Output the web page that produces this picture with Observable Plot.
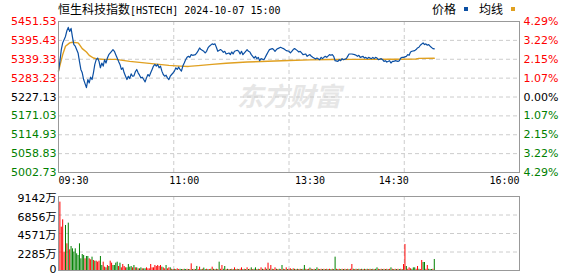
<!DOCTYPE html>
<html><head><meta charset="utf-8">
<script src="https://cdn.jsdelivr.net/npm/d3@7"></script>
<script src="https://cdn.jsdelivr.net/npm/@observablehq/plot@0.6"></script>
<style>
body{margin:0;background:#fff;}
#wrap{position:relative;width:578px;height:276px;overflow:hidden;background:#fff;}
#wrap svg{position:absolute;left:0;overflow:visible;}
.title{position:absolute;left:58px;top:1px;height:15px;line-height:15px;color:#000;white-space:nowrap;}
.cjk{font-family:"Noto Sans CJK SC";font-size:12px;}
.mono{font-family:"DejaVu Sans Mono";font-size:10px;}
.legend{position:absolute;left:432px;top:1px;height:15px;line-height:15px;white-space:nowrap;font-family:"Noto Sans CJK SC";font-size:12px;color:#000;}
.sq{display:inline-block;width:4px;height:4px;margin:0 0 3px 8px;vertical-align:middle;}
</style></head>
<body>
<div id="wrap">
  <div class="title"><span class="cjk">恒生科技指数</span><span class="mono">[HSTECH] 2024-10-07 15:00</span></div>
  <div class="legend">价格<span class="sq" style="background:#0b4fa3"></span><span style="margin-left:11px">均线</span><span class="sq" style="background:#e0a020"></span></div>
</div>
<script>
// ---- data ----
const priceMinute = [0,1,2,3,5,6,7,8,9,10,11,12,14,15,16,17,18,19,20,21,22,23,24,25,26,27,28,29,30,31,32,33,34,35,36,38,39,40,41,42,43,44,45,46,47,48,49,50,51,52,53,54,55,56,57,58,59,60,61,62,63,64,65,66,67,68,69,70,71,72,73,74,75,76,77,78,79,80,81,82,83,84,85,86,87,88,89,90,91,92,93,94,95,96,98,99,100,101,102,104,105,106,107,108,110,111,112,113,114,116,117,118,119,120,122,123,124,125,126,128,129,130,131,132,134,135,136,137,138,140,141,142,143,144,145,147,148,149,150,151,153,154,155,156,157,159,160,161,162,163,165,166,167,168,169,171,172,173,174,175,177,178,179,180,181,182,184,185,187,188,189,190,191,192,194,195,196,197,198,200,201,202,203,204,206,207,208,209,210,212,213,214,215,216,218,219,220,221,222,224,225,226,227,228,229,231,232,233,234,235,237,238,239,240,241,243,244,245,246,247,249,250,251,252,253,255,256,257,258,259,261,262,263,264,265,266,268,269];
const priceValue = [5304,5333,5368,5388,5407,5424,5434,5422,5431,5405,5383,5378,5358,5333,5309,5299,5279,5267,5255,5279,5269,5286,5279,5299,5324,5338,5343,5333,5314,5328,5319,5338,5328,5343,5353,5363,5368,5363,5353,5343,5333,5324,5309,5314,5299,5289,5279,5289,5282,5296,5289,5290,5302,5309,5299,5292,5284,5286,5279,5272,5284,5294,5289,5299,5309,5319,5324,5319,5324,5314,5319,5304,5294,5289,5292,5284,5279,5289,5294,5299,5304,5314,5309,5316,5309,5304,5319,5328,5338,5345,5348,5345,5353,5351,5353,5358,5365,5373,5368,5363,5358,5363,5373,5378,5385,5383,5385,5375,5363,5368,5365,5360,5363,5355,5358,5353,5361,5355,5363,5366,5363,5355,5363,5353,5363,5368,5363,5361,5353,5343,5348,5341,5345,5335,5341,5338,5345,5353,5361,5368,5371,5368,5363,5368,5371,5375,5373,5371,5368,5365,5363,5358,5363,5368,5371,5365,5361,5363,5358,5353,5355,5348,5351,5353,5348,5345,5340,5343,5338,5345,5341,5345,5348,5345,5353,5351,5353,5348,5335,5333,5338,5335,5341,5338,5341,5348,5355,5355,5355,5353,5351,5348,5351,5345,5348,5343,5345,5341,5345,5341,5345,5341,5345,5343,5338,5341,5338,5333,5335,5331,5335,5328,5333,5333,5335,5333,5335,5343,5345,5345,5348,5353,5351,5361,5363,5365,5368,5373,5375,5381,5388,5383,5385,5381,5383,5378,5371,5370];
const avgMinute = [0,3,5,8,10,14,15,17,20,22,25,27,32,41,46,51,58,65,72,79,87,93,100,110,120,135,150,165,180,195,210,240,256,258,269];
const avgValue = [5304,5353,5378,5388,5390,5388,5383,5371,5361,5351,5343,5341,5339,5339,5336,5333,5330,5327,5324,5321,5319,5318,5320.5,5324,5327.5,5331,5333.5,5335.5,5337.5,5338.5,5339,5339.5,5340,5342,5342.5];
// volume (万) per minute from 09:30, and up(r)/down(g)
const volume = [4738,8446,5356,6262,2266,5562,3296,5850,2554,2966,
2678,2266,2678,2060,1854,3296,1442,1978,1854,1442,
1730,1730,1442,1318,1648,1236,1154,1154,1030,1154,
1730,618,1030,412,330,618,494,1154,906,618,
618,906,1030,494,906,330,741,494,330,330,
741,412,494,330,618,330,330,206,206,330,
206,206,206,330,206,206,741,330,330,618,
494,618,494,618,412,330,206,618,206,330,
330,150,120,150,120,206,120,150,120,120,
150,120,150,120,120,824,120,150,120,500,
120,412,120,150,300,120,150,120,120,150,
412,150,120,150,120,1030,150,618,150,494,
120,150,120,120,150,120,330,120,150,120,
150,330,120,150,120,330,120,150,330,120,
150,330,120,150,120,330,150,120,330,150,
906,150,618,150,120,330,150,120,150,120,
618,150,120,330,120,150,206,120,206,150,
120,150,120,150,120,150,618,150,120,150,
300,150,120,150,120,330,150,120,150,120,
150,120,150,120,150,120,150,120,1648,150,
120,150,120,150,120,150,120,150,120,150,
741,150,120,150,120,150,120,150,120,150,
120,150,120,150,120,150,120,150,330,150,
120,150,120,150,120,150,120,150,330,150,
120,150,120,150,120,150,120,741,3214,494,
150,330,206,150,330,330,150,494,150,120,
1236,989,989,150,618,150,120,120,150,1360];
const volDir = "rrrrrgrgrggggggggggrggrrgrgrrrggrrgrgrrggggrgrrrrggggrgrgrggrggrrrrrrrrrrrgrrgrrg" +
  "rgrgrrggrg" + "grgrrgrggr" + "rgrggrgrgr" + "grgrgrrggr" + "grgrgrgrgr" + "rgrgrgrgrg" +
  "grgrrgrrgr" + "grgrrgrgrg" + "rgrgrrgrgr" + "grgrggrgrg" + "rgrggrgrgr" + "grgrgrggrg" +
  "rgrgrgrgrr" + "grgrgrgrgr" + "grgrgrggrg" + "rgrgrgrgrg" + "rgrgrgrrgr" + "rrgggrrgrr" + "ggrrgggrg";
const priceTicks = [5451.53,5395.43,5339.33,5283.23,5227.13,5171.03,5114.93,5058.83,5002.73];
const prevClose = 5227.13;
const volTicks = [9142,6856,4571,2285,0];
const timeLabels = ["09:30","11:00","13:30","14:30","16:00"];
const timeMinutes = [0,90,180,240,330];
const gridMinutes = [82.5,165,247.5];

// ---- build ----
const RED = "#ff0000", GREEN = "#008000", BLUE = "#0b4fa3", GOLD = "#e0a020";
const GRID = "#cccccc", BORDER = "#999999";
const priceRows = priceMinute.map((m, i) => ({m, p: priceValue[i]}));
const avgRows = avgMinute.map((m, i) => ({m, p: avgValue[i]}));
const volRows = volume.map((v, i) => ({m: i, v, d: volDir[i]}));
const times = timeMinutes.map((m, i) => ({m, t: timeLabels[i]}));
const tickColor = d => d > prevClose ? RED : d < prevClose ? GREEN : "#000";

const priceChart = Plot.plot({
  width: 578, height: 190,
  marginTop: 21, marginBottom: 18, marginLeft: 58, marginRight: 59,
  x: {domain: [0, 330], axis: null},
  y: {domain: [5002.73, 5451.53], axis: null},
  color: {type: "identity"},
  style: {fontFamily: "DejaVu Sans", fontSize: "11px", background: "transparent", overflow: "visible"},
  marks: [
    Plot.text(["东方财富"], {frameAnchor: "middle", text: d => d, fill: "#e6e6e6", fontSize: 26, fontWeight: "bold", fontStyle: "italic", fontFamily: "Noto Sans CJK SC", dy: 1}),
    Plot.ruleY(priceTicks.slice(1, -1), {stroke: GRID, strokeDasharray: "4,3"}),
    Plot.ruleX(gridMinutes, {stroke: GRID, strokeDasharray: "4,3"}),
    Plot.line(avgRows, {x: "m", y: "p", stroke: GOLD, strokeWidth: 1.4}),
    Plot.line(priceRows, {x: "m", y: "p", stroke: BLUE, strokeWidth: 1.2}),
    Plot.frame({stroke: BORDER}),
    Plot.text(priceTicks, {y: d => d, text: d => d.toFixed(2), frameAnchor: "left", textAnchor: "end", dx: -2, fill: tickColor}),
    Plot.text(priceTicks, {y: d => d, text: d => (Math.abs(d - prevClose) / prevClose * 100).toFixed(2) + "%", frameAnchor: "right", textAnchor: "start", dx: 4, fill: tickColor}),
    Plot.text(times.slice(0, 1), {x: "m", text: "t", frameAnchor: "bottom", textAnchor: "start", dy: 11, fontFamily: "DejaVu Sans Mono", fontSize: 10, fill: "#000"}),
    Plot.text(times.slice(1, -1), {x: "m", text: "t", frameAnchor: "bottom", textAnchor: "middle", dy: 11, fontFamily: "DejaVu Sans Mono", fontSize: 10, fill: "#000"}),
    Plot.text(times.slice(-1), {x: "m", text: "t", frameAnchor: "bottom", textAnchor: "end", dy: 11, fontFamily: "DejaVu Sans Mono", fontSize: 10, fill: "#000"})
  ]
});
priceChart.style.top = "0px";

const volChart = Plot.plot({
  width: 578, height: 86,
  marginTop: 6, marginBottom: 6, marginLeft: 58, marginRight: 59,
  x: {domain: [0, 330], axis: null},
  y: {domain: [0, 9142], axis: null},
  style: {fontFamily: "DejaVu Sans, Noto Sans CJK SC", fontSize: "11px", background: "transparent", overflow: "visible"},
  marks: [
    Plot.ruleY(volTicks.slice(1, -1), {stroke: GRID, strokeDasharray: "4,3"}),
    Plot.ruleX(gridMinutes, {stroke: GRID, strokeDasharray: "4,3"}),
    Plot.ruleX(volRows.filter(d => d.d === "r"), {x: "m", y1: 0, y2: "v", stroke: RED, strokeWidth: 1}),
    Plot.ruleX(volRows.filter(d => d.d === "g"), {x: "m", y1: 0, y2: "v", stroke: GREEN, strokeWidth: 1}),
    Plot.frame({stroke: BORDER}),
    Plot.text(volTicks.filter(d => d > 0), {y: d => d, text: d => d + "万", frameAnchor: "left", textAnchor: "end", dx: -2, dy: 2, fill: "#000"}),
    Plot.text(volTicks.filter(d => d === 0), {y: d => d, text: d => String(d), frameAnchor: "left", textAnchor: "end", dx: -2, dy: -1, fill: "#000"})
  ]
});
volChart.style.top = "190px";

const wrap = document.getElementById("wrap");
wrap.insertBefore(volChart, wrap.firstChild);
wrap.insertBefore(priceChart, wrap.firstChild);
</script>
</body></html>
